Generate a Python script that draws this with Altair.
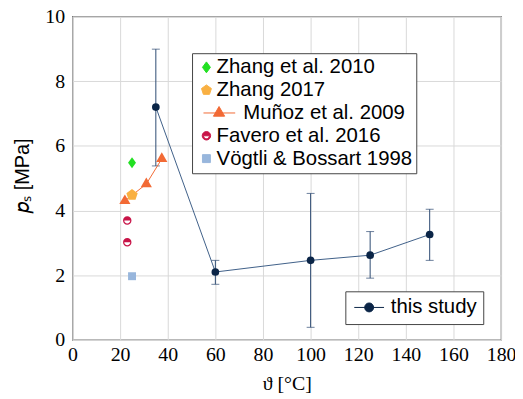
import altair as alt
import pandas as pd

# ---- data ----
study_label = "this study"
study_temp = [35, 60, 100, 125, 150]
study_ps = [7.2, 2.1, 2.46, 2.62, 3.26]
study_lo = [5.38, 1.72, 0.39, 1.91, 2.46]
study_hi = [8.99, 2.46, 4.53, 3.35, 4.04]

sources = ["Zhang et al. 2010", "Zhang 2017", "Muñoz et al. 2009",
           "Favero et al. 2016", "Vögtli & Bossart 1998"]
lit_source = ["Zhang et al. 2010", "Zhang 2017",
              "Muñoz et al. 2009", "Muñoz et al. 2009", "Muñoz et al. 2009",
              "Favero et al. 2016", "Favero et al. 2016",
              "Vögtli & Bossart 1998"]
lit_temp = [25, 25, 22, 31, 37.5, 23, 23, 25]
lit_ps = [5.48, 4.48, 4.3, 4.82, 5.6, 3.69, 3.02, 1.97]

# ---- styles ----
src_colors = ["#22e022", "#f9b042", "#f26a35", "#c81448", "#98b6dc"]
src_shapes = [
    "M0,-1.1L0.8,0L0,1.1L-0.8,0Z",
    "M0,-1.2L1.141,-0.371L0.705,0.971L-0.705,0.971L-1.141,-0.371Z",
    "M0,-1.3L1.126,0.65L-1.126,0.65Z",
    "M-0.85,0A0.85,0.85,0,0,1,0.85,0A0.85,0.85,0,0,1,-0.85,0ZM-0.6,0A0.6,0.6,0,0,0,0.6,0Z",
    "M-0.8,-0.8L0.8,-0.8L0.8,0.8L-0.8,0.8Z",
]
legend_shapes = list(src_shapes)
legend_shapes[1] = "M0,-1.05L1.0,-0.325L0.617,0.85L-0.617,0.85L-1.0,-0.325Z"
legend_shapes[2] = "M-0.6,0L5.8,0M2.54,-1.3L3.67,0.65L1.41,0.65Z"
study_legend_shape = "M-3,0L3,0M0.9,0A0.9,0.9,0,1,1,-0.9,0A0.9,0.9,0,1,1,0.9,0Z"
navy = "#0b2547"
line_blue = "#3f5f88"
serif = "Liberation Serif, Tinos, Times New Roman, Times, Nimbus Roman, FreeSerif, DejaVu Serif, Noto Serif, serif"
sans = "Liberation Sans, Arial, sans-serif"

study_df = pd.DataFrame({"temp": study_temp, "ps": study_ps, "lo": study_lo,
                         "hi": study_hi, "series": [study_label] * len(study_temp)})
lit_df = pd.DataFrame({"temp": lit_temp, "ps": lit_ps, "source": lit_source})

x_scale = alt.Scale(domain=[0, 180], nice=False)
y_scale = alt.Scale(domain=[0, 10], nice=False)
x_axis = alt.Axis(values=list(range(0, 181, 20)), title="ϑ [°C]", titleFont=serif,
                  titleFontSize=20, titleFontWeight="normal", titleX=216, titleY=50,
                  titleBaseline="alphabetic", titleAlign="center", labelPadding=5,
                  labelFlush=False, labelFont=serif)
y_axis = alt.Axis(values=list(range(0, 11, 2)), title="𝑝ₛ [MPa]", titleFont=sans,
                  titleFontSize=20, titleFontWeight="normal", titleX=-44, titleY=160,
                  titleAngle=270, titleBaseline="alphabetic", titleAlign="center", labelPadding=8,
                  labelFlush=False, labelFont=serif)


def X(field="temp"):
    return alt.X(f"{field}:Q", scale=x_scale, axis=x_axis)


def Y(field="ps"):
    return alt.Y(f"{field}:Q", scale=y_scale, axis=y_axis)


munoz_label = sources[2]
pad = "\u200b\u00a0\u00a0\u00a0\u00a0\u2009"
lit_legend = alt.Legend(
    orient="none", legendX=120.5, legendY=37, title=None, padding=4, rowPadding=2,
    symbolSize=100, symbolStrokeWidth=1, symbolOffset=0.25, labelOffset=0,
    labelFont=sans, labelFontSize=20.5, labelColor="black", labelLimit=400,
    strokeColor="#444444", fillColor="white", symbolOpacity=1,
    labelExpr=f"indexof(datum.label, 'Mu') === 0 ? '{pad}' + datum.label : datum.label",
)
study_legend = alt.Legend(
    orient="none", legendX=275, legendY=277, title=None, padding=6,
    symbolSize=100, symbolStrokeWidth=1, symbolOffset=7.75, labelOffset=11.5,
    labelFont=sans, labelFontSize=20.5, labelColor="black",
    strokeColor="#444444", fillColor="white", symbolOpacity=1,
)

study_line = alt.Chart(study_df).mark_line(color=line_blue, strokeWidth=1).encode(x=X(), y=Y())
study_err = alt.Chart(study_df).mark_errorbar(ticks=True, size=8, thickness=1, color="#2d4a72").encode(
    x=X(), y=Y("lo"), y2="hi:Q")
study_pts = alt.Chart(study_df).mark_point(filled=True, shape="circle", size=60, opacity=1,
                                           color=navy).encode(x=X(), y=Y())
study_leg = alt.Chart(study_df).transform_filter("false").mark_point(
    filled=True, size=100, opacity=1, strokeWidth=1).encode(
    x=X(), y=Y(),
    fill=alt.Fill("series:N", scale=alt.Scale(domain=[study_label], range=[navy]), legend=study_legend),
    stroke=alt.Stroke("series:N", scale=alt.Scale(domain=[study_label], range=[navy]), legend=study_legend),
    shape=alt.Shape("series:N", scale=alt.Scale(domain=[study_label], range=[study_legend_shape]),
                    legend=study_legend),
)

munoz_line = alt.Chart(lit_df).transform_filter(
    alt.datum.source == munoz_label).mark_line(color=src_colors[2], strokeWidth=1).encode(x=X(), y=Y())
lit_pts = alt.Chart(lit_df).mark_point(filled=True, size=100, opacity=1).encode(
    x=X(), y=Y(),
    color=alt.Color("source:N", scale=alt.Scale(domain=sources, range=src_colors), legend=None),
    shape=alt.Shape("source:N", scale=alt.Scale(domain=sources, range=src_shapes), legend=None))
lit_leg = alt.Chart(lit_df).transform_filter("false").mark_point(
    filled=True, size=100, opacity=1, strokeWidth=1).encode(
    x=X(), y=Y(),
    fill=alt.Fill("source:N", scale=alt.Scale(domain=sources, range=src_colors), legend=lit_legend),
    stroke=alt.Stroke("source:N", scale=alt.Scale(domain=sources, range=src_colors), legend=lit_legend),
    shape=alt.Shape("source:N", scale=alt.Scale(domain=sources, range=legend_shapes), legend=lit_legend),
)

chart = alt.layer(study_line, study_err, study_pts, munoz_line, lit_pts, lit_leg, study_leg).resolve_scale(
    color="independent", shape="independent", fill="independent", stroke="independent"
).properties(
    width=432, height=326, autosize=alt.AutoSizeParams(type="none"),
    padding={"left": 65, "top": 7, "right": 14, "bottom": 60},
).configure_view(stroke="#707070", strokeWidth=1.3).configure_axis(
    grid=True, gridColor="#d9d9d9", gridWidth=1, domain=False, ticks=False,
    labelFontSize=20, labelColor="black", titleColor="black",
)

chart.save("out.html", embed_options={"renderer": "svg", "actions": False})
